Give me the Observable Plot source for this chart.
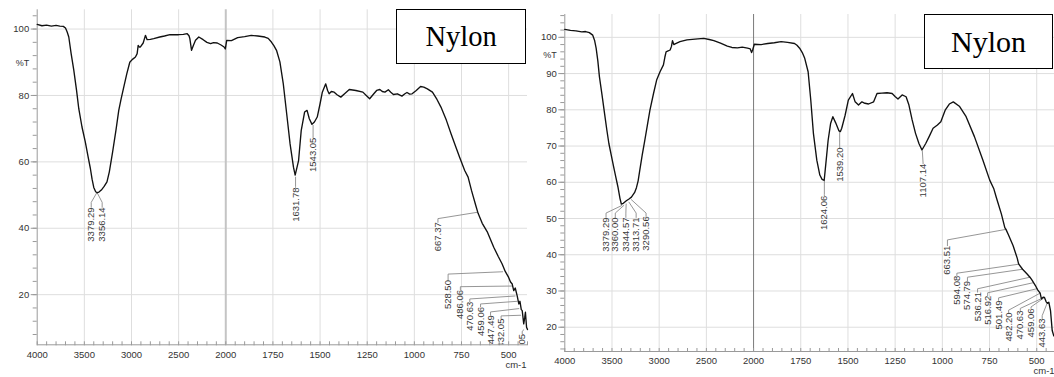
<!DOCTYPE html>
<html><head><meta charset="utf-8">
<script src="https://cdn.jsdelivr.net/npm/d3@7"></script>
<script src="https://cdn.jsdelivr.net/npm/@observablehq/plot@0.6"></script>
<style>
html,body{margin:0;padding:0;background:#fff;overflow:hidden;width:1054px;height:377px;}
#wrap{position:relative;width:1054px;height:377px;overflow:hidden;}
.panel{position:absolute;top:0;}
.nylon{position:absolute;box-sizing:border-box;border:1.4px solid #000;background:#fff;font-family:"Liberation Serif","Times New Roman",serif;color:#000;display:flex;align-items:center;justify-content:center;line-height:1.107;}
</style></head><body><div id="wrap"></div>
<script>
// ---------- DATA ----------
const xMajorTicks = [4000, 3500, 3000, 2500, 2000, 1750, 1500, 1250, 1000, 750, 500];
const leftYTicks = [20, 40, 60, 80, 100];
const rightYTicks = [20, 30, 40, 50, 60, 70, 80, 90, 100];
const titleText = "Nylon";
const yUnit = "%T";
const xUnit = "cm-1";

// left spectrum
const leftWn = [4000,3950,3900,3850,3800,3760,3723,3700,3682,3665,3640,3612,3583,3559,3525,3490,3460,3436,3418,3400,3380,3364,3345,3320,3290,3260,3235,3200,3165,3135,3110,3082,3050,3018,2993,2958,2940,2929,2918,2905,2876,2852,2834,2800,2764,2700,2650,2592,2500,2450,2409,2390,2381,2363,2345,2321,2286,2240,2200,2161,2130,2090,2050,2018,2005,1995,1970,1937,1900,1865,1830,1793,1775,1758,1745,1731,1713,1695,1677,1659,1641,1632,1614,1600,1582,1569,1557,1543,1530,1515,1500,1488,1470,1460,1452,1440,1425,1410,1390,1370,1345,1310,1273,1255,1237,1215,1200,1183,1170,1156,1138,1125,1111,1090,1066,1050,1039,1025,1012,990,967,950,931,904,880,859,830,805,780,760,733,715,697,688,675,662,640,614,579,555,535,518,500,490,481,473,465,455,446,440,433,428,420,415,411,405,400];
const leftT = [101.4,101.0,101.2,100.9,101.1,100.9,100.8,100.3,99.1,97.6,92.6,87.6,81.6,76.0,70.5,66.0,61.5,58.0,54.8,52.3,51.0,50.7,50.9,51.5,52.6,54.0,57.0,63.0,69.5,75.5,79.0,82.5,86.5,90.0,90.8,91.6,92.6,95.1,94.6,94.6,95.8,98.1,96.8,96.9,97.1,97.6,97.9,98.3,98.3,98.4,98.6,98.0,97.1,93.6,95.0,96.6,97.6,96.8,96.0,95.6,95.9,95.8,95.2,94.6,94.0,96.6,96.5,97.4,97.7,98.1,97.9,97.6,97.2,96.1,95.0,93.6,90.1,83.5,74.5,65.4,58.4,56.0,60.4,69.4,75.0,75.5,73.0,71.3,72.0,73.5,77.5,81.0,83.5,81.5,80.5,81.2,81.0,80.2,79.5,80.5,81.8,81.5,81.0,80.0,79.0,80.5,81.5,81.8,81.2,81.0,81.7,81.0,80.3,80.5,79.8,80.5,80.9,80.4,80.5,81.5,82.7,82.5,82.0,81.0,78.8,76.5,72.5,68.4,64.5,61.4,57.4,55.4,51.4,49.6,47.0,44.5,41.5,39.0,34.3,31.5,29.3,27.0,25.2,23.8,23.2,21.2,22.0,19.7,17.2,18.0,15.5,15.2,11.2,13.0,14.7,10.2,9.5];

// left peak labels
const leftLabText = ["3379.29","3356.14","1631.78","1543.05","667.37","528.50","486.06","470.63","459.06","447.49","432.05","405.05"];
const leftLabPeakWn = [3370,3362,1630,1537,667,532,481,466,455,446,436,420];
const leftLabPeakT = [50.6,50.6,55.4,71.0,44.8,26.9,22.6,19.6,18.0,15.8,13.8,9.4];
const leftLabColWn = [3427,3311,1630,1537,875,821,756,706,649,596,540,428];
const leftLabElbowT = [47.8,47.8,52.5,67.5,42.9,26.2,22.4,18.7,17.2,14.8,13.6,9.0];
const leftLabTopT = [46.3,46.3,52.3,67.3,41.8,24.4,21.4,17.9,16.3,13.8,12.8,8.2];

// right spectrum
const rightWn = [4000,3940,3882,3820,3780,3740,3704,3685,3668,3650,3633,3605,3579,3555,3533,3508,3483,3460,3437,3415,3401,3380,3348,3320,3294,3260,3241,3223,3205,3180,3152,3125,3098,3060,3027,2991,2955,2940,2927,2900,2884,2870,2859,2845,2831,2780,2706,2620,2528,2470,2421,2350,2278,2230,2171,2120,2064,2035,2021,2010,1996,1960,1925,1890,1854,1820,1783,1770,1756,1742,1729,1711,1697,1683,1665,1649,1637,1626,1617,1605,1592,1580,1565,1548,1540,1533,1515,1498,1476,1462,1444,1426,1410,1391,1364,1346,1320,1293,1266,1249,1235,1213,1192,1177,1160,1142,1124,1108,1088,1070,1049,1026,1008,985,963,942,910,874,830,785,749,728,714,687,669,663,650,625,603,596,575,551,536,524,507,495,482,475,466,459,450,443,436,427,418,410,400];
const rightT = [102.2,101.9,101.8,101.5,101.6,101.3,100.6,99.2,97.0,93.5,89.1,84.0,79.0,74.5,70.7,67.5,64.3,61.5,58.7,55.5,54.0,54.2,54.9,55.4,55.9,57.2,58.5,60.4,63.4,67.5,71.6,75.8,79.9,84.5,88.2,90.5,92.4,94.5,96.0,96.3,96.5,97.5,99.1,98.0,98.2,98.8,99.3,99.5,99.7,99.4,99.1,98.4,97.6,97.2,97.1,97.3,97.0,96.8,95.8,96.5,98.1,98.0,98.3,98.5,98.8,98.6,98.3,97.8,97.0,95.8,94.2,90.5,82.7,73.5,66.1,62.0,60.8,60.5,65.2,71.6,76.2,78.1,76.4,74.2,74.0,74.9,78.5,82.7,84.5,82.2,81.3,82.2,81.8,81.6,82.2,84.5,84.6,84.7,84.5,83.6,83.0,84.1,83.6,81.3,77.2,73.5,70.7,68.9,70.7,72.6,74.9,75.8,76.7,79.9,81.6,82.2,81.0,78.1,72.6,66.1,60.6,58.3,55.8,51.2,47.5,47.0,45.5,42.5,39.0,37.5,36.0,34.7,33.8,32.9,31.5,30.3,29.4,27.8,28.3,28.2,27.0,26.6,26.9,24.6,19.1,17.7,17.0];

// right peak labels
const rightLabText = ["3379.29","3360.00","3344.57","3313.71","3290.56","1624.06","1539.20","1107.14","663.51","594.08","574.79","536.21","516.92","501.49","482.20","470.63","459.06","443.63"];
const rightLabPeakWn = [3395,3375,3350,3320,3295,1625,1544,1106,663.5,594,575,536,517,501.5,482,470.6,459,443.6];
const rightLabPeakT = [53.6,53.6,54.0,54.5,55.2,60.3,74.2,68.6,47.0,37.4,36.0,33.8,32.3,30.6,29.4,28.0,28.2,26.8];
const rightLabColWn = [3563,3465,3353,3244,3139,1625,1544,1102,973,923,867,813.5,760,702,649,587,530,471];
const rightLabElbowT = [51.5,51.5,51.5,51.5,51.5,56.6,69.8,65.3,44.1,34.9,33.8,30.6,29.5,28.1,24.7,25.2,25.6,23.2];
const rightLabTopT = [50.3,50.3,50.3,50.3,50.6,56.3,69.6,65.1,42.5,34.2,32.8,29.7,28.7,27.4,24.1,24.6,25.2,22.4];

// ---------- BUILD ----------
const FONT = "'Liberation Sans', Arial, sans-serif";
const xMinor = [...d3.range(4000, 2000, -100), ...d3.range(2000, 399, -50)];
// FTIR axis: the 4000–2000 region is drawn at half the scale of 2000–400
const warp = w => (w >= 2000 ? 2000 + (w - 2000) / 2 : w);

function makePanel(cfg) {
  const spec = cfg.wn.map((w, i) => ({wn: w, t: cfg.t[i]}));
  const labels = cfg.labText.map((s, i) => ({s, x: cfg.labColWn[i], y: cfg.labTopT[i]}));
  const leaders = [];
  cfg.labText.forEach((s, i) => {
    leaders.push({id: i, x: cfg.labPeakWn[i], y: cfg.labPeakT[i]});
    leaders.push({id: i, x: cfg.labColWn[i], y: cfg.labElbowT[i]});
    leaders.push({id: i, x: cfg.labColWn[i], y: cfg.labTopT[i]});
  });
  const yMin = cfg.yDomain[0];
  const grid = xMajorTicks.filter(d => d !== 4000 && d !== 2000);
  return Plot.plot({
    width: cfg.width, height: 377,
    marginLeft: cfg.ml, marginRight: cfg.mr, marginTop: cfg.mt, marginBottom: cfg.mb,
    style: {fontFamily: FONT, background: "transparent", overflow: "visible"},
    x: {domain: [warp(4000), warp(400)], axis: null},
    y: {domain: cfg.yDomain, axis: null},
    marks: [
      Plot.ruleX(grid, {x: warp, stroke: "#dedede", strokeWidth: 1}),
      Plot.ruleY(cfg.yTicks, {stroke: "#dedede", strokeWidth: 1}),
      Plot.ruleX([2000], {x: warp, stroke: cfg.c2000, strokeWidth: cfg.w2000}),
      Plot.ruleX([4000], {x: warp, stroke: "#9a9a9a", strokeWidth: 1}),
      Plot.ruleY([yMin], {stroke: "#9a9a9a", strokeWidth: 1}),
      Plot.ruleY(cfg.yMinor, {x1: warp(4000), x2: warp(4000), insetLeft: -4, stroke: "#9a9a9a"}),
      Plot.ruleY(cfg.yTicks, {x1: warp(4000), x2: warp(4000), insetLeft: -6, stroke: "#9a9a9a"}),
      Plot.ruleX(xMinor, {x: warp, y1: yMin, y2: yMin, insetTop: -3, insetBottom: -1, stroke: "#9a9a9a"}),
      Plot.line(leaders, {x: d => warp(d.x), y: "y", z: "id", stroke: "#8a8a8a", strokeWidth: 0.9, clip: true}),
      Plot.line(spec, {x: d => warp(d.wn), y: "t", stroke: "#111", strokeWidth: 1.35, strokeLinejoin: "round"}),
      Plot.text(labels, {x: d => warp(d.x), y: "y", text: "s", rotate: -90, textAnchor: "end", fontSize: 9.5, fill: "#3a3a3a", clip: true}),
      Plot.text(xMajorTicks, {x: warp, frameAnchor: "bottom", dy: cfg.xLabDy, text: d => String(d), fontSize: 9.5, fill: "#333"}),
      Plot.text(cfg.yTicks, {y: d => d, frameAnchor: "left", dx: -8, textAnchor: "end", text: d => String(d), fontSize: 9.5, fill: "#333"}),
      Plot.text([yUnit], {y: () => cfg.unitT, frameAnchor: "left", dx: -8, textAnchor: "end", text: d => d, fontSize: 9, fill: "#333"}),
      Plot.text([xUnit], {frameAnchor: "bottom-right", dy: cfg.unitDy, dx: -1, textAnchor: "end", text: d => d, fontSize: 9.5, fill: "#333"})
    ]
  });
}

const wrap = document.getElementById("wrap");

const left = makePanel({
  width: 530, ml: 36.7, mr: 3, mt: 9.3, mb: 32.7,
  yDomain: [4.9, 105.8], yTicks: leftYTicks, yMinor: d3.range(8, 105, 4),
  c2000: "#c4c4c4", w2000: 2, xLabDy: 13.4, unitT: 89.6, unitDy: 23.4,
  wn: leftWn, t: leftT,
  labText: leftLabText, labPeakWn: leftLabPeakWn, labPeakT: leftLabPeakT,
  labColWn: leftLabColWn, labElbowT: leftLabElbowT, labTopT: leftLabTopT
});
left.classList.add("panel"); left.style.left = "0px";
wrap.appendChild(left);

const right = makePanel({
  width: 540, ml: 34.3, mr: 14.9, mt: 14, mb: 26,
  yDomain: [13.3, 106.3], yTicks: rightYTicks, yMinor: d3.range(14, 107, 2),
  c2000: "#7a7a7a", w2000: 1, xLabDy: 12.7, unitT: 95, unitDy: 22.3,
  wn: rightWn, t: rightT,
  labText: rightLabText, labPeakWn: rightLabPeakWn, labPeakT: rightLabPeakT,
  labColWn: rightLabColWn, labElbowT: rightLabElbowT, labTopT: rightLabTopT
});
right.classList.add("panel"); right.style.left = "530px";
wrap.appendChild(right);

function box(l, t, w, h, fs) {
  const d = document.createElement("div");
  d.className = "nylon";
  d.style.left = l + "px"; d.style.top = t + "px";
  d.style.width = w + "px"; d.style.height = h + "px";
  d.style.fontSize = fs + "px";
  d.textContent = titleText;
  wrap.appendChild(d);
}
box(396, 9.3, 130, 55, 28.5);
box(924, 14, 129, 54.5, 30);
</script></body></html>
